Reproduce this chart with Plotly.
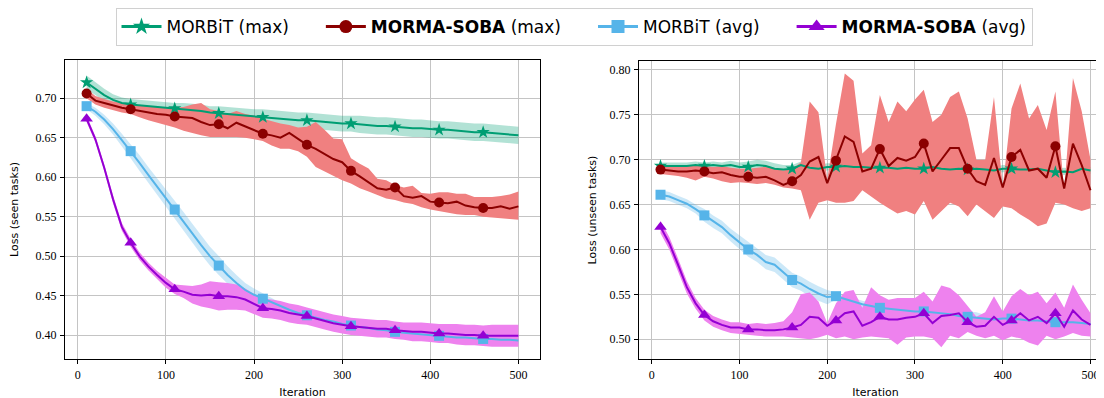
import plotly.graph_objects as go

iterations = list(range(10, 501, 10))

# ---------------- Left panel: seen tasks ----------------
seen_morbit_max = [0.720, 0.712, 0.704, 0.698, 0.694, 0.692, 0.691, 0.690, 0.689, 0.688,
                   0.687, 0.686, 0.685, 0.684, 0.682, 0.681, 0.680, 0.679, 0.678, 0.677,
                   0.676, 0.675, 0.674, 0.673, 0.672, 0.672, 0.671, 0.670, 0.669, 0.668,
                   0.668, 0.667, 0.666, 0.665, 0.665, 0.664, 0.663, 0.662, 0.662, 0.661,
                   0.660, 0.660, 0.659, 0.658, 0.657, 0.657, 0.656, 0.655, 0.654, 0.653]
seen_morbit_max_std = [0.009, 0.008, 0.008, 0.007, 0.007, 0.007, 0.007, 0.007, 0.007, 0.007,
                       0.007, 0.008, 0.008, 0.008, 0.008, 0.009, 0.009, 0.009, 0.009, 0.009,
                       0.010, 0.010, 0.010, 0.010, 0.010, 0.010, 0.010, 0.010, 0.010, 0.010,
                       0.010, 0.011, 0.011, 0.011, 0.011, 0.011, 0.011, 0.011, 0.011, 0.011,
                       0.011, 0.011, 0.011, 0.011, 0.011, 0.011, 0.011, 0.011, 0.011, 0.011]

seen_morma_max = [0.706, 0.697, 0.694, 0.691, 0.688, 0.686, 0.684, 0.682, 0.680, 0.679,
                  0.677, 0.676, 0.675, 0.670, 0.666, 0.667, 0.662, 0.669, 0.664, 0.660,
                  0.655, 0.653, 0.650, 0.656, 0.648, 0.641, 0.636, 0.630, 0.623, 0.619,
                  0.608, 0.601, 0.594, 0.586, 0.584, 0.587, 0.576, 0.574, 0.576, 0.569,
                  0.568, 0.567, 0.569, 0.564, 0.562, 0.561, 0.561, 0.563, 0.560, 0.563]
seen_morma_max_hi = [0.712, 0.703, 0.699, 0.696, 0.694, 0.692, 0.691, 0.690, 0.689, 0.688,
                     0.688, 0.689, 0.692, 0.694, 0.686, 0.684, 0.680, 0.684, 0.680, 0.678,
                     0.674, 0.671, 0.668, 0.666, 0.663, 0.664, 0.670, 0.660, 0.649, 0.648,
                     0.624, 0.617, 0.611, 0.598, 0.596, 0.590, 0.587, 0.589, 0.580, 0.579,
                     0.581, 0.581, 0.579, 0.579, 0.575, 0.575, 0.575, 0.576, 0.578, 0.582]
seen_morma_max_lo = [0.700, 0.692, 0.688, 0.685, 0.682, 0.680, 0.676, 0.672, 0.669, 0.666,
                     0.663, 0.659, 0.656, 0.653, 0.651, 0.651, 0.651, 0.651, 0.650, 0.648,
                     0.646, 0.640, 0.636, 0.636, 0.633, 0.626, 0.613, 0.607, 0.602, 0.596,
                     0.592, 0.586, 0.582, 0.577, 0.573, 0.571, 0.568, 0.566, 0.562, 0.559,
                     0.557, 0.555, 0.553, 0.552, 0.552, 0.550, 0.549, 0.548, 0.547, 0.546]

seen_morbit_avg = [0.690, 0.683, 0.673, 0.661, 0.647, 0.633, 0.618, 0.603, 0.588, 0.573,
                   0.559, 0.544, 0.529, 0.514, 0.500, 0.488, 0.476, 0.466, 0.457, 0.451,
                   0.446, 0.441, 0.436, 0.432, 0.428, 0.425, 0.422, 0.419, 0.417, 0.414,
                   0.412, 0.410, 0.409, 0.407, 0.406, 0.404, 0.403, 0.402, 0.401, 0.400,
                   0.399, 0.398, 0.397, 0.397, 0.396, 0.395, 0.395, 0.394, 0.394, 0.393]
seen_morbit_avg_std = [0.004, 0.005, 0.006, 0.007, 0.008, 0.009, 0.010, 0.010, 0.011, 0.011,
                       0.012, 0.012, 0.012, 0.012, 0.012, 0.012, 0.011, 0.010, 0.009, 0.008,
                       0.007, 0.006, 0.005, 0.005, 0.005, 0.004, 0.004, 0.004, 0.004, 0.004,
                       0.004, 0.004, 0.004, 0.004, 0.004, 0.004, 0.004, 0.004, 0.004, 0.004,
                       0.004, 0.004, 0.004, 0.004, 0.004, 0.004, 0.004, 0.004, 0.004, 0.004]

seen_morma_avg = [0.674, 0.648, 0.612, 0.572, 0.537, 0.517, 0.500, 0.487, 0.476, 0.466,
                  0.458, 0.455, 0.451, 0.450, 0.451, 0.449, 0.449, 0.448, 0.445, 0.439,
                  0.434, 0.433, 0.431, 0.428, 0.426, 0.424, 0.421, 0.418, 0.415, 0.413,
                  0.411, 0.410, 0.409, 0.408, 0.408, 0.406, 0.405, 0.404, 0.404, 0.403,
                  0.402, 0.402, 0.401, 0.400, 0.400, 0.399, 0.399, 0.399, 0.399, 0.399]
seen_morma_avg_std = [0.004, 0.004, 0.004, 0.005, 0.005, 0.005, 0.005, 0.005, 0.005, 0.006,
                      0.006, 0.008, 0.011, 0.014, 0.017, 0.018, 0.017, 0.016, 0.014, 0.013,
                      0.012, 0.012, 0.012, 0.012, 0.012, 0.011, 0.011, 0.011, 0.011, 0.011,
                      0.011, 0.011, 0.011, 0.011, 0.011, 0.011, 0.011, 0.012, 0.012, 0.012,
                      0.012, 0.012, 0.013, 0.013, 0.013, 0.013, 0.014, 0.014, 0.014, 0.014]

# ---------------- Right panel: unseen tasks ----------------
unseen_morbit_max = [0.693, 0.693, 0.693, 0.693, 0.694, 0.693, 0.694, 0.693, 0.694, 0.692,
                     0.692, 0.694, 0.693, 0.690, 0.689, 0.690, 0.694, 0.691, 0.690, 0.692,
                     0.692, 0.693, 0.692, 0.692, 0.691, 0.691, 0.691, 0.690, 0.691, 0.690,
                     0.690, 0.692, 0.690, 0.689, 0.690, 0.689, 0.690, 0.689, 0.688, 0.690,
                     0.690, 0.689, 0.689, 0.690, 0.688, 0.686, 0.687, 0.686, 0.690, 0.688]
unseen_morbit_max_std = [0.004, 0.004, 0.004, 0.004, 0.004, 0.004, 0.004, 0.004, 0.005, 0.005,
                         0.006, 0.006, 0.006, 0.006, 0.005, 0.004, 0.004, 0.004, 0.004, 0.004,
                         0.004, 0.004, 0.004, 0.004, 0.004, 0.004, 0.004, 0.004, 0.004, 0.004,
                         0.004, 0.004, 0.004, 0.004, 0.004, 0.004, 0.004, 0.004, 0.004, 0.004,
                         0.004, 0.004, 0.004, 0.004, 0.004, 0.004, 0.004, 0.004, 0.004, 0.004]

unseen_morma_max = [0.689, 0.688, 0.687, 0.687, 0.688, 0.687, 0.685, 0.686, 0.683, 0.681,
                    0.681, 0.680, 0.681, 0.677, 0.672, 0.676, 0.683, 0.698, 0.703, 0.674,
                    0.699, 0.726, 0.720, 0.687, 0.690, 0.712, 0.693, 0.702, 0.699, 0.703,
                    0.718, 0.687, 0.700, 0.713, 0.713, 0.690, 0.676, 0.672, 0.702, 0.669,
                    0.703, 0.711, 0.688, 0.690, 0.680, 0.715, 0.668, 0.718, 0.694, 0.666]
unseen_morma_max_hi = [0.693, 0.693, 0.693, 0.693, 0.693, 0.693, 0.692, 0.693, 0.691, 0.690,
                       0.690, 0.691, 0.692, 0.690, 0.688, 0.690, 0.697, 0.765, 0.753, 0.678,
                       0.740, 0.796, 0.788, 0.707, 0.716, 0.772, 0.742, 0.765, 0.754, 0.767,
                       0.778, 0.742, 0.750, 0.770, 0.776, 0.746, 0.700, 0.700, 0.770, 0.670,
                       0.757, 0.785, 0.746, 0.761, 0.733, 0.776, 0.666, 0.791, 0.754, 0.700]
unseen_morma_max_lo = [0.684, 0.683, 0.682, 0.680, 0.677, 0.681, 0.679, 0.676, 0.674, 0.675,
                       0.674, 0.673, 0.674, 0.672, 0.669, 0.668, 0.666, 0.633, 0.652, 0.655,
                       0.652, 0.652, 0.654, 0.666, 0.659, 0.652, 0.646, 0.640, 0.643, 0.639,
                       0.654, 0.633, 0.643, 0.652, 0.648, 0.637, 0.650, 0.643, 0.635, 0.648,
                       0.646, 0.639, 0.633, 0.626, 0.629, 0.652, 0.650, 0.646, 0.643, 0.646]

unseen_morbit_avg = [0.661, 0.659, 0.655, 0.651, 0.645, 0.638, 0.631, 0.625, 0.616, 0.608,
                     0.600, 0.594, 0.586, 0.583, 0.574, 0.566, 0.562, 0.556, 0.551, 0.547,
                     0.548, 0.545, 0.542, 0.539, 0.537, 0.535, 0.534, 0.533, 0.532, 0.531,
                     0.531, 0.530, 0.529, 0.528, 0.526, 0.525, 0.524, 0.523, 0.522, 0.523,
                     0.523, 0.522, 0.521, 0.521, 0.520, 0.519, 0.519, 0.519, 0.518, 0.517]
unseen_morbit_avg_std = [0.005, 0.005, 0.005, 0.005, 0.005, 0.007, 0.007, 0.007, 0.007, 0.008,
                         0.008, 0.008, 0.008, 0.008, 0.008, 0.008, 0.008, 0.008, 0.008, 0.008,
                         0.004, 0.004, 0.004, 0.004, 0.004, 0.004, 0.004, 0.004, 0.004, 0.004,
                         0.004, 0.004, 0.006, 0.006, 0.006, 0.006, 0.006, 0.004, 0.004, 0.004,
                         0.004, 0.004, 0.004, 0.004, 0.004, 0.004, 0.004, 0.004, 0.004, 0.004]

unseen_morma_avg = [0.625, 0.607, 0.583, 0.558, 0.540, 0.527, 0.520, 0.516, 0.513, 0.513,
                    0.511, 0.511, 0.510, 0.510, 0.511, 0.513, 0.516, 0.525, 0.524, 0.515,
                    0.521, 0.529, 0.531, 0.515, 0.519, 0.525, 0.522, 0.522, 0.524, 0.525,
                    0.529, 0.518, 0.526, 0.527, 0.529, 0.519, 0.514, 0.515, 0.525, 0.516,
                    0.521, 0.529, 0.521, 0.525, 0.518, 0.529, 0.514, 0.532, 0.522, 0.516]
unseen_morma_avg_hi = [0.632, 0.614, 0.590, 0.565, 0.546, 0.533, 0.526, 0.522, 0.519, 0.519,
                       0.517, 0.518, 0.517, 0.518, 0.520, 0.530, 0.550, 0.552, 0.542, 0.518,
                       0.540, 0.553, 0.555, 0.535, 0.558, 0.549, 0.544, 0.546, 0.546, 0.546,
                       0.553, 0.542, 0.560, 0.557, 0.549, 0.537, 0.525, 0.530, 0.548, 0.531,
                       0.548, 0.556, 0.549, 0.553, 0.540, 0.552, 0.535, 0.561, 0.544, 0.529]
unseen_morma_avg_lo = [0.618, 0.600, 0.576, 0.551, 0.534, 0.521, 0.514, 0.510, 0.507, 0.506,
                       0.505, 0.504, 0.503, 0.503, 0.503, 0.502, 0.501, 0.500, 0.502, 0.505,
                       0.501, 0.503, 0.500, 0.502, 0.503, 0.502, 0.501, 0.494, 0.502, 0.503,
                       0.503, 0.501, 0.491, 0.504, 0.501, 0.508, 0.504, 0.501, 0.504, 0.499,
                       0.503, 0.501, 0.496, 0.493, 0.504, 0.500, 0.503, 0.507, 0.504, 0.503]

legend_names = ["MORBiT (max)", "<b>MORMA-SOBA</b> (max)", "MORBiT (avg)", "<b>MORMA-SOBA</b> (avg)"]
line_colors = ["#009E73", "#8B0000", "#56B4E9", "#9400D3"]
band_colors = ["rgba(0,158,115,0.30)", "rgba(240,128,128,1.0)", "rgba(86,180,233,0.30)", "rgba(238,130,238,1.0)"]
marker_symbols = ["star", "circle", "square", "triangle-up"]
marker_sizes = [10, 10, 10, 11]

def pm(mean, std, sign):
    return [m + sign * s for m, s in zip(mean, std)]

left_series = [
    (seen_morbit_max, pm(seen_morbit_max, seen_morbit_max_std, 1), pm(seen_morbit_max, seen_morbit_max_std, -1)),
    (seen_morma_max, seen_morma_max_hi, seen_morma_max_lo),
    (seen_morbit_avg, pm(seen_morbit_avg, seen_morbit_avg_std, 1), pm(seen_morbit_avg, seen_morbit_avg_std, -1)),
    (seen_morma_avg, pm(seen_morma_avg, seen_morma_avg_std, 1), pm(seen_morma_avg, seen_morma_avg_std, -1)),
]
right_series = [
    (unseen_morbit_max, pm(unseen_morbit_max, unseen_morbit_max_std, 1), pm(unseen_morbit_max, unseen_morbit_max_std, -1)),
    (unseen_morma_max, unseen_morma_max_hi, unseen_morma_max_lo),
    (unseen_morbit_avg, pm(unseen_morbit_avg, unseen_morbit_avg_std, 1), pm(unseen_morbit_avg, unseen_morbit_avg_std, -1)),
    (unseen_morma_avg, unseen_morma_avg_hi, unseen_morma_avg_lo),
]

fig = go.Figure()
marker_idx = list(range(0, 50, 5))

for panel, (series, xa, ya) in enumerate([(left_series, "x", "y"), (right_series, "x2", "y2")]):
    for k, (mean, hi, lo) in enumerate(series):
        fig.add_trace(go.Scatter(
            x=iterations + iterations[::-1], y=hi + lo[::-1],
            fill="toself", fillcolor=band_colors[k], line=dict(width=0),
            mode="lines", showlegend=False, hoverinfo="skip", xaxis=xa, yaxis=ya))
    for k, (mean, hi, lo) in enumerate(series):
        fig.add_trace(go.Scatter(
            x=iterations, y=mean, mode="lines",
            line=dict(color=line_colors[k], width=2),
            showlegend=False, xaxis=xa, yaxis=ya))
        fig.add_trace(go.Scatter(
            x=[iterations[i] for i in marker_idx], y=[mean[i] for i in marker_idx],
            mode="markers",
            marker=dict(symbol=marker_symbols[k], size=marker_sizes[k], color=line_colors[k], line=dict(width=0)),
            showlegend=False, xaxis=xa, yaxis=ya))

NBSP = "\u00a0"
for k in range(4):
    pad = NBSP * 5 if k < 3 else ""
    fig.add_trace(go.Scatter(
        x=[None], y=[None], mode="lines+markers", name=legend_names[k] + pad,
        line=dict(color=line_colors[k], width=3),
        marker=dict(symbol=marker_symbols[k], size=marker_sizes[k] + 3, color=line_colors[k]),
        xaxis="x", yaxis="y"))

# The page places the figure 8px from the top-left corner, so the layout is shifted by -8px.
W, H = 1104, 398
OFF = 8
TOP, BOTTOM = 60 - OFF, 359 - OFF
PH = BOTTOM - TOP
tick_font = dict(family="Liberation Serif, serif", size=12, color="black")
title_font = dict(family="DejaVu Sans", size=11, color="black")
common_axis = dict(showline=True, linecolor="black", linewidth=1, mirror=True,
                   showgrid=True, gridcolor="#c4c4c4", gridwidth=1,
                   ticks="outside", ticklen=4, tickcolor="black", tickwidth=1,
                   ticklabelstandoff=1, tickfont=tick_font, zeroline=False)

fig.update_layout(
    width=W, height=H,
    margin=dict(l=0, r=0, t=TOP, b=H - BOTTOM),
    plot_bgcolor="white", paper_bgcolor="white",
    xaxis=dict(domain=[(65 - OFF) / W, (540 - OFF) / W], range=[-14.5, 524.5], tickvals=[0, 100, 200, 300, 400, 500],
               title=dict(text="Iteration", font=title_font, standoff=6), anchor="y", **common_axis),
    yaxis=dict(domain=[0, 1], range=[0.3696, 0.7485], tickvals=[0.40, 0.45, 0.50, 0.55, 0.60, 0.65, 0.70],
               tickformat=".2f", title=dict(text="Loss (seen tasks)", font=title_font, standoff=18),
               anchor="x", **common_axis),
    xaxis2=dict(domain=[(639 - OFF) / W, 1.0], range=[-14.5, 524.5], tickvals=[0, 100, 200, 300, 400, 500],
                title=dict(text="Iteration", font=title_font, standoff=6), anchor="y2", **common_axis),
    yaxis2=dict(domain=[0, 1 - 1 / PH], range=[0.478, 0.810], tickvals=[0.50, 0.55, 0.60, 0.65, 0.70, 0.75, 0.80],
                tickformat=".2f", title=dict(text="Loss (unseen tasks)", font=title_font, standoff=10),
                anchor="x2", **common_axis),
    legend=dict(orientation="h", x=(574 - OFF) / W, xanchor="center", xref="paper",
                y=1 + TOP / PH, yanchor="top",
                font=dict(family="DejaVu Sans", size=17, color="black"),
                bordercolor="#d0d0d0", borderwidth=1, bgcolor="white",
                itemwidth=40),
)

fig.write_html("out.html")
